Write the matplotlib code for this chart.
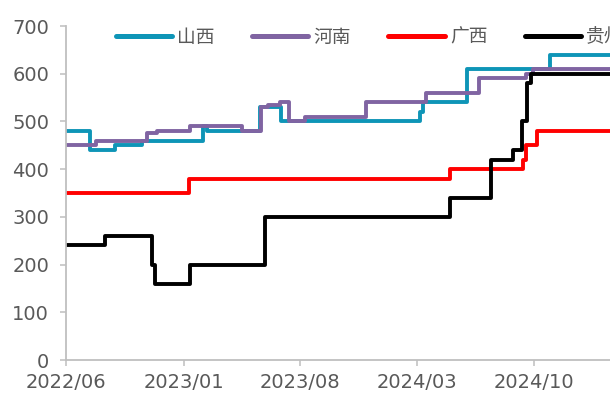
import numpy as np
import pandas as pd
import matplotlib
matplotlib.use("Agg")
import matplotlib.pyplot as plt
import matplotlib.dates as mdates
from matplotlib import font_manager

# ------------------------------------------------------------
# Dados: preco por provincia (degraus)
# ------------------------------------------------------------
datas_shanxi = ["2022-06-01", "2022-07-14", "2022-08-28", "2022-10-17", "2023-02-05",
                "2023-02-12", "2023-05-20", "2023-06-28", "2024-03-06", "2024-03-12",
                "2024-05-31", "2024-10-29", "2025-03-01"]
valores_shanxi = [480, 440, 450, 460, 490, 480, 530, 500, 520, 540, 610, 640, 640]

datas_henan = ["2022-06-01", "2022-07-25", "2022-10-26", "2022-11-13", "2023-01-12",
               "2023-04-17", "2023-05-22", "2023-06-04", "2023-06-25", "2023-07-12",
               "2023-08-10", "2023-11-30", "2024-03-17", "2024-06-22", "2024-09-16",
               "2024-09-28", "2025-03-01"]
valores_henan = [450, 460, 475, 480, 490, 480, 530, 535, 540, 500, 510, 540, 560, 590,
                 600, 610, 610]

datas_guangxi = ["2022-06-01", "2023-01-10", "2024-04-30", "2024-09-10", "2024-09-16",
                 "2024-10-06", "2025-03-01"]
valores_guangxi = [350, 380, 400, 420, 450, 480, 480]

datas_guizhou = ["2022-06-01", "2022-08-10", "2022-11-04", "2022-11-09", "2023-01-12",
                 "2023-05-29", "2024-04-30", "2024-07-14", "2024-08-23", "2024-09-08",
                 "2024-09-17", "2024-09-25", "2025-03-01"]
valores_guizhou = [240, 260, 200, 160, 200, 300, 340, 420, 440, 500, 580, 600, 600]

# nomes das provincias (escapes unicode para evitar problema de encoding)
nome_shanxi = "\u5c71\u897f"
nome_henan = "\u6cb3\u5357"
nome_guangxi = "\u5e7f\u897f"
nome_guizhou = "\u8d35\u5dde"

series = [
    (nome_shanxi, datas_shanxi, valores_shanxi, "#0E95B7"),
    (nome_henan, datas_henan, valores_henan, "#8064A2"),
    (nome_guangxi, datas_guangxi, valores_guangxi, "#FF0000"),
    (nome_guizhou, datas_guizhou, valores_guizhou, "#000000"),
]

ticks_x = ["2022-06-01", "2023-01-01", "2023-08-01", "2024-03-01", "2024-10-01"]

# ------------------------------------------------------------
# Fontes
# ------------------------------------------------------------
nomes = {f.name for f in font_manager.fontManager.ttflist}
fonte_num = "Liberation Sans Narrow" if "Liberation Sans Narrow" in nomes else "DejaVu Sans"
cinza_txt = "#595959"
cinza_eixo = "#BFBFBF"

# ------------------------------------------------------------
# Figura
# ------------------------------------------------------------
fig = plt.figure(figsize=(6.10, 3.96), dpi=100)
ax = fig.add_axes([66.4 / 610, 36 / 396, 1 - 66.4 / 610, 334 / 396])

for nome, datas, valores, cor in series:
    ax.step(pd.to_datetime(datas), valores, where="post", color=cor, lw=2.8,
            label=nome, solid_capstyle="butt")

ax.set_ylim(0, 700)
ax.set_yticks(np.arange(0, 701, 100))
ax.set_xlim(pd.Timestamp("2022-06-01"), pd.Timestamp("2025-02-16"))
ax.set_xticks(pd.to_datetime(ticks_x))
ax.xaxis.set_major_formatter(mdates.DateFormatter("%Y/%m"))

for lado in ["top", "right"]:
    ax.spines[lado].set_visible(False)
for lado in ["left", "bottom"]:
    ax.spines[lado].set_color(cinza_eixo)
    ax.spines[lado].set_linewidth(1.3)

ax.tick_params(axis="y", length=4.5, width=1.1, color=cinza_eixo, pad=8,
               labelsize=14, labelcolor=cinza_txt)
ax.tick_params(axis="x", length=4.5, width=1.1, color=cinza_eixo, pad=5,
               labelsize=14, labelcolor=cinza_txt)
for lbl in ax.get_xticklabels() + ax.get_yticklabels():
    lbl.set_fontfamily(fonte_num)

# legenda no topo, a ultima entrada passa da borda direita
leg = ax.legend(ncol=4, loc="center left", bbox_to_anchor=(0.091, 0.967),
                frameon=False, borderpad=0, borderaxespad=0,
                handlelength=3.0, handletextpad=0.27, columnspacing=2.0,
                prop={"family": ["Noto Sans CJK SC", "DejaVu Sans"], "size": 13.5})
for txt in leg.get_texts():
    txt.set_color(cinza_txt)
for linha in leg.get_lines():
    linha.set_linewidth(3.6)
    linha.set_solid_capstyle("round")

fig.savefig("out.png", dpi=100)
